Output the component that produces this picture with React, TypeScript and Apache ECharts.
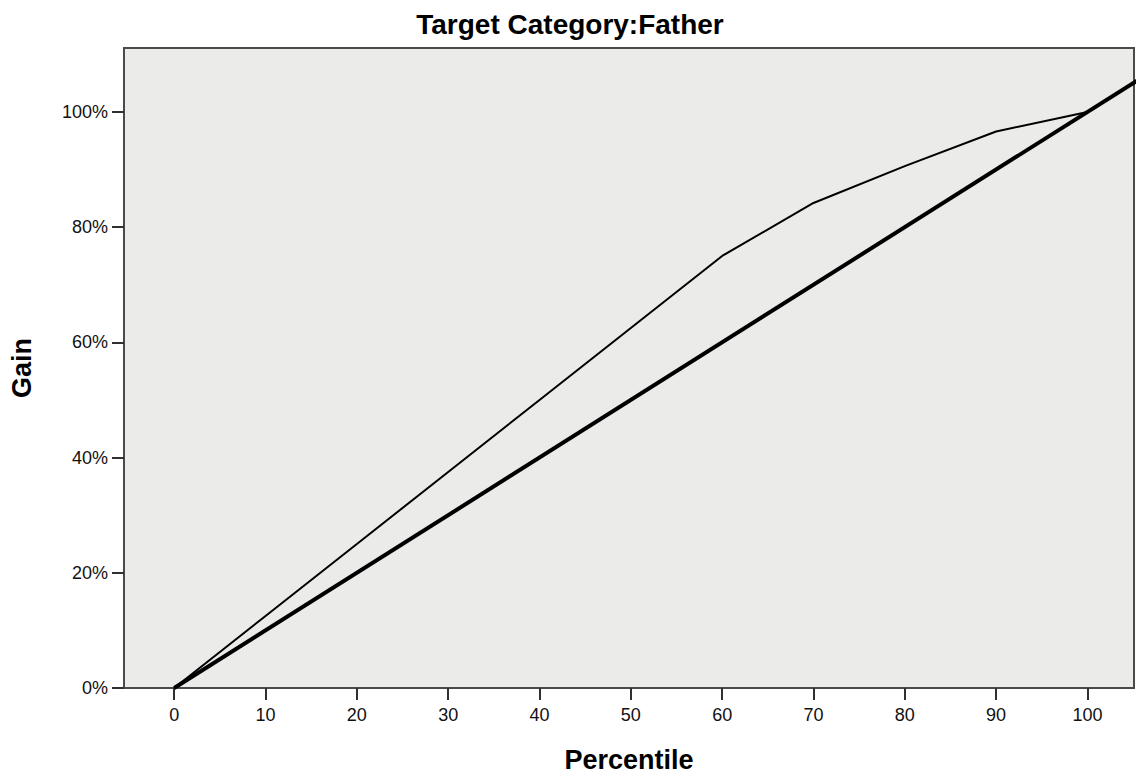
import React, { useEffect, useRef } from "react";
import * as echarts from "echarts";

const percentiles = [0, 10, 20, 30, 40, 50, 60, 70, 80, 90, 100];
const gainValues = [0, 12.5, 25, 37.5, 50, 62.5, 75, 84.2, 90.6, 96.6, 100];
const baselinePoints = [0, 110];
const xTicks = [0, 10, 20, 30, 40, 50, 60, 70, 80, 90, 100];
const yTicks = [0, 20, 40, 60, 80, 100];

export default function App() {
  const ref = useRef<HTMLDivElement>(null);
  useEffect(() => {
    document.body.style.margin = "0";
    const chart = echarts.init(ref.current!, null, { renderer: "svg" });
    const font = "Arial, 'Liberation Sans', sans-serif";
    chart.setOption({
      animation: false,
      backgroundColor: "#ffffff",
      title: {
        text: "Target Category:Father",
        left: 565,
        textAlign: "center",
        top: 5,
        textStyle: { fontFamily: font, fontSize: 28, fontWeight: "bold", color: "#000" },
      },
      grid: {
        left: 124,
        top: 48,
        right: 3,
        bottom: 90,
        outerBoundsMode: "none",
        containLabel: false,
        show: true,
        backgroundColor: "#ebebea",
        borderColor: "#4a4a4a",
        borderWidth: 2,
      },
      xAxis: {
        type: "value",
        min: -5.5,
        max: 105.1,
        name: "Percentile",
        nameLocation: "middle",
        nameGap: 58,
        nameTextStyle: { fontFamily: font, fontSize: 27, fontWeight: "bold", color: "#000" },
        axisLine: { show: true, onZero: false, lineStyle: { color: "#4a4a4a", width: 2 } },
        axisTick: { show: true, customValues: xTicks, length: 12, lineStyle: { color: "#303030", width: 2 } },
        axisLabel: {
          customValues: xTicks,
          fontFamily: font,
          fontSize: 18,
          color: "#111",
          margin: 18,
        },
        splitLine: { show: false },
      },
      yAxis: {
        type: "value",
        min: 0,
        max: 111.1,
        interval: 20,
        name: "Gain",
        nameLocation: "middle",
        nameGap: 89,
        nameRotate: 90,
        nameTextStyle: { fontFamily: font, fontSize: 27, fontWeight: "bold", color: "#000" },
        axisLine: { show: true, onZero: false, lineStyle: { color: "#4a4a4a", width: 2 } },
        axisTick: { show: true, customValues: yTicks, length: 12, lineStyle: { color: "#303030", width: 2 } },
        axisLabel: {
          customValues: yTicks,
          formatter: (v: number) => `${v}%`,
          fontFamily: font,
          fontSize: 18,
          color: "#111",
          margin: 16,
        },
        splitLine: { show: false },
      },
      series: [
        {
          name: "Baseline",
          type: "line",
          data: baselinePoints.map((v) => [v, v]),
          showSymbol: false,
          clip: true,
          lineStyle: { color: "#000", width: 4 },
          z: 3,
        },
        {
          name: "Gain",
          type: "line",
          data: percentiles.map((p, i) => [p, gainValues[i]]),
          showSymbol: false,
          clip: true,
          lineStyle: { color: "#000", width: 2 },
          z: 4,
        },
      ],
    });
    return () => chart.dispose();
  }, []);
  return <div ref={ref} style={{ width: 1137, height: 778 }} />;
}
